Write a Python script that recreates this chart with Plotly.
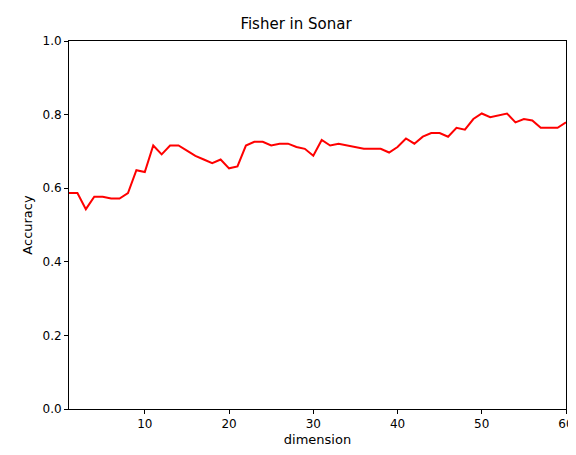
import plotly.graph_objects as go

dims = list(range(1, 61))
acc = [0.587, 0.587, 0.543, 0.577, 0.577, 0.572, 0.572, 0.587, 0.649, 0.644,
       0.716, 0.692, 0.716, 0.716, 0.702, 0.688, 0.678, 0.668, 0.678, 0.654,
       0.659, 0.716, 0.726, 0.726, 0.716, 0.721, 0.721, 0.712, 0.707, 0.688,
       0.731, 0.716, 0.721, 0.716, 0.712, 0.707, 0.707, 0.707, 0.697, 0.712,
       0.735, 0.721, 0.740, 0.750, 0.750, 0.740, 0.764, 0.759, 0.788, 0.803,
       0.793, 0.798, 0.803, 0.779, 0.788, 0.784, 0.764, 0.764, 0.764, 0.779]

fig = go.Figure(go.Scatter(x=dims, y=acc, mode="lines",
                           line=dict(color="red", width=2)))

axis = dict(showline=True, linecolor="black", linewidth=1, mirror=True,
            showgrid=False, zeroline=False, ticks="outside", ticklen=4,
            tickcolor="black", automargin=False, tickfont=dict(size=12))
fig.update_layout(
    width=576, height=455,
    margin=dict(l=61, r=18, t=33, b=54),
    paper_bgcolor="white", plot_bgcolor="white",
    font=dict(family="DejaVu Sans", size=12, color="black"),
    title=dict(text="Fisher in Sonar", x=0.5, xanchor="center",
               y=1 - 10 / 455, yanchor="top", font=dict(size=15)),
    xaxis=dict(axis, range=[1, 60], tickvals=[10, 20, 30, 40, 50, 60],
               title=dict(text="dimension", standoff=4, font=dict(size=13))),
    yaxis=dict(axis, range=[0, 1], tickvals=[0, 0.2, 0.4, 0.6, 0.8, 1.0],
               tickformat=".1f",
               title=dict(text="Accuracy", standoff=6, font=dict(size=13))),
    showlegend=False,
)
fig.write_html("out.html")
